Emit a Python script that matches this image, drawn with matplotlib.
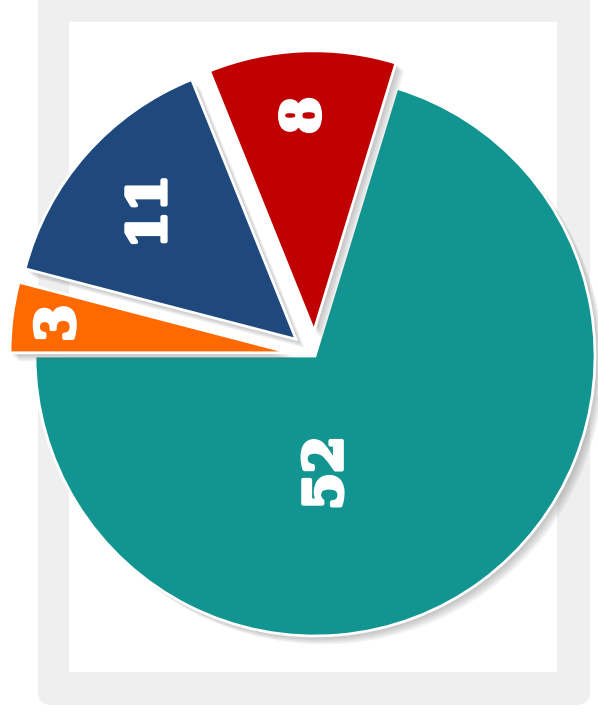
import numpy as np
import matplotlib
matplotlib.use("Agg")
import matplotlib.pyplot as plt
import matplotlib.patheffects as pe
from matplotlib.patches import FancyBboxPatch, Rectangle

# Slice values and colours (counter-clockwise from the 9 o'clock position)
values = [52, 8, 11, 3]
labels = ["52", "8", "11", "3"]
colors = ["#129490", "#c00000", "#1f497d", "#ff6a00"]
explode_frac = [0, 0.09, 0.09, 0.09]

# where each label sits: distance from the pie centre (radius units) and angle shift from slice middle
label_dist = [0.42, 0.86, 0.78, 0.92]
label_shift = [-30.5, 0, 0, 0]

W, H = 598, 713
fig = plt.figure(figsize=(W / 100, H / 100), dpi=100)
ax = fig.add_axes([0, 0, 1, 1])

# Grey card with white panel behind the pie
card = FancyBboxPatch((38, 8), 552, 715, boxstyle="round,pad=0,rounding_size=14",
                      facecolor="#efefef", edgecolor="none", zorder=0)
ax.add_patch(card)
ax.add_patch(Rectangle((69, 41), 488, 650, facecolor="white", edgecolor="none", zorder=0))

cx, cy, r = 315, 357, 280
# pie explode offsets are in data units, so scale by the radius
explode = [e * r for e in explode_frac]

shadow = [pe.SimplePatchShadow(offset=(k, -k), shadow_rgbFace="#666666", alpha=0.08)
          for k in (1, 2, 3, 4, 5, 6)] + [pe.Normal()]

wedges, _ = ax.pie(values, colors=colors, explode=explode, startangle=180,
                   counterclock=True, center=(cx, cy), radius=r,
                   wedgeprops=dict(edgecolor="white", linewidth=2, zorder=2))
for w in wedges:
    w.set_path_effects(shadow)

for w, lab, d, s in zip(wedges, labels, label_dist, label_shift):
    ang = np.deg2rad((w.theta1 + w.theta2) / 2 + s)
    ax.text(cx + d * r * np.cos(ang), cy + d * r * np.sin(ang), lab,
            rotation=90, ha="center", va="center", rotation_mode="anchor",
            color="white", fontsize=38, fontweight="bold", family="DejaVu Serif",
            zorder=3, path_effects=[pe.withStroke(linewidth=3, foreground="white")])

ax.set_xlim(0, W)
ax.set_ylim(0, H)
ax.set_aspect("equal")
ax.axis("off")

fig.savefig("out.png", dpi=100, facecolor="white")
